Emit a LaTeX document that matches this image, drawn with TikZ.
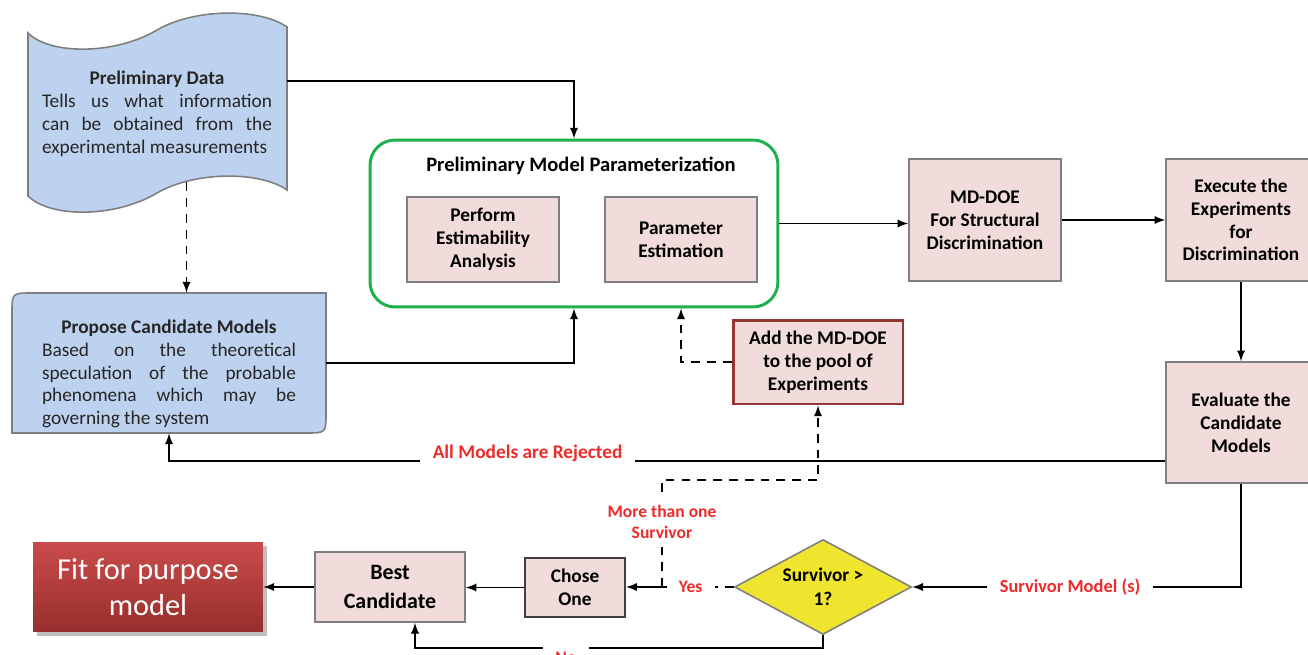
\documentclass[tikz,border=0pt]{standalone}
\usepackage{fontspec}
\setmainfont{Carlito}
\usetikzlibrary{arrows, shapes, positioning, shadows}

\definecolor{boxpink}{HTML}{F2DCDB}
\definecolor{boxblue}{HTML}{BDD2EE}
\definecolor{framegray}{HTML}{7F7F7F}
\definecolor{paramgreen}{HTML}{1FAF4E}
\definecolor{addred}{HTML}{953735}
\definecolor{labelred}{HTML}{EE2B2B}
\definecolor{decideyellow}{HTML}{EFE52F}
\definecolor{fittop}{HTML}{CB4B4B}
\definecolor{fitbottom}{HTML}{972E2D}
\definecolor{textgray}{HTML}{262626}

\begin{document}
\begin{tikzpicture}[x=0.02cm, y=-0.02cm,
		font=\fontsize{11}{13}\selectfont\bfseries,
		pinkbox/.style={draw=framegray, fill=boxpink, line width=0.9pt, align=center, inner sep=2pt},
		bluetext/.style={align=justify, font=\fontsize{11}{13}\selectfont, text=textgray},
		bluebody/.style={draw=framegray, fill=boxblue, line width=0.9pt},
		arr/.style={line width=1.1pt, -latex},
		dash line/.style={line width=1.1pt, dash pattern=on 5pt off 4pt},
		redlabel/.style={fill=white, text=labelred, font=\fontsize{10.5}{12.5}\selectfont\bfseries,
			align=center, inner xsep=7pt, inner ysep=5pt}]
			\useasboundingbox (0,0) rectangle (1308,655);
			\clip (0,0) rectangle (1308,655);

			\filldraw [bluebody] (28,33) .. controls (50,55) and (115,55) .. (157,30) .. controls (195,8) and (260,8) .. (287,27)
			-- (287,190) .. controls (260,171) and (195,171) .. (157,193) .. controls (115,218) and (50,218) .. (28,196) -- cycle;
			\node (data) at (157.5,106) [minimum width=5.18cm, minimum height=3.04cm] {};
			\node (datatext) at (157,114) [bluetext, text width=4.6cm]
			{\makebox[\linewidth]{\bfseries Preliminary Data}\par Tells us what information\linebreak
			can be obtained from the\linebreak experimental measurements};

			\filldraw [bluebody] (12,433) -- (12,313) .. controls (12,293) .. (32,293)
			-- (326,293) -- (326,413) .. controls (326,433) .. (306,433) -- cycle;
			\node (propose) at (169,363) [minimum width=6.28cm, minimum height=2.8cm] {};
			\node (proposetext) at (169,374) [bluetext, text width=5.08cm]
			{\makebox[\linewidth]{\bfseries Propose Candidate Models}\par Based on the theoretical\linebreak
			speculation of the probable\linebreak phenomena which may be\linebreak governing the system};

			\node (param) at (574,223.5) [draw=paramgreen, line width=1.7pt, rounded corners=0.5cm,
			minimum width=8.16cm, minimum height=3.34cm] {};
			\node (paramtitle) at (581,166) [font=\fontsize{11.7}{14}\selectfont\bfseries] {Preliminary Model Parameterization};
			\node (estim) at (483,239.5) [pinkbox, minimum width=3.04cm, minimum height=1.7cm] {Perform\\Estimability\\Analysis};
			\node (paramest) at (681,239.5) [pinkbox, minimum width=3.04cm, minimum height=1.7cm] {Parameter\\Estimation};

			\node (mddoe) at (985,220) [pinkbox, minimum width=3.04cm, minimum height=2.44cm] {MD-DOE\\For Structural\\Discrimination};
			\node (execute) at (1241,220) [pinkbox, minimum width=3.0cm, minimum height=2.44cm] {Execute the\\Experiments\\for\\Discrimination};
			\node (evaluate) at (1241,422.5) [pinkbox, minimum width=3.0cm, minimum height=2.42cm] {Evaluate the\\Candidate\\Models};
			\node (add) at (818,362) [pinkbox, draw=addred, line width=1.7pt, minimum width=3.4cm, minimum height=1.68cm] {Add the MD-DOE\\to the pool of\\Experiments};

			\node (decide) at (823,587) [diamond, aspect=1.8, draw=framegray, fill=decideyellow, line width=0.9pt, inner sep=0pt,
			minimum width=3.54cm, minimum height=1.9cm, align=center, font=\fontsize{11}{13.5}\selectfont\bfseries] {Survivor >\\1?};
			\node (chose) at (575,587.5) [pinkbox, draw=black!75, line width=1.3pt, minimum width=2cm, minimum height=1.18cm] {Chose\\One};
			\node (best) at (390,587) [pinkbox, minimum width=3cm, minimum height=1.4cm,
			font=\fontsize{12.5}{16}\selectfont\bfseries] {Best\\Candidate};
			\node (fit) at (148,587) [top color=fittop, bottom color=fitbottom, drop shadow, minimum width=4.6cm,
			minimum height=1.8cm, align=center, text=white, font=\fontsize{17.3}{20.5}\selectfont] {Fit for purpose\\model};

			\coordinate (yes) at (662,587);
			\coordinate (turn) at (662,480);

			\draw [arr] ([yshift=0.5cm]data.east) -| (param.north);
			\draw [arr] (propose.east) -| (param.south);
			\draw [dash line, arr] ([xshift=0.58cm]data.south) -- ([xshift=0.58cm]data.south |- propose.north);
			\draw [arr] (param.east) -- (param.east -| mddoe.west);
			\draw [arr] (mddoe.east) -- (mddoe.east -| execute.west);
			\draw [arr] (execute.south) -- (evaluate.north);
			\draw [arr] ([yshift=-0.77cm]evaluate.west) -| node[redlabel, pos=0.32, yshift=0.16cm,
			font=\fontsize{11}{13}\selectfont\bfseries] {All Models are Rejected} (propose.south);
			\draw [dash line, arr] (add.west) -| (paramest.south |- param.south);
			\draw [arr] (evaluate.south) |- node[redlabel, pos=0.76] {Survivor Model (s)} (decide.east);
			\draw [dash line] (decide.west) -- node[redlabel, pos=0.6, font=\fontsize{10}{12}\selectfont\bfseries] {Yes} (yes);
			\draw [arr] (yes) -- (yes -| chose.east);
			\draw [dash line, arr] (yes) -- node[redlabel, pos=0.61, font=\fontsize{10}{12}\selectfont\bfseries]
			{More than one\\Survivor} (turn) -| (add.south);
			\draw [arr] (chose.west) -- (chose.west -| best.east);
			\draw [arr] (best.west) -- (best.west -| fit.east);
			\draw [arr] (decide.south) -- ++(0,13) -| node[redlabel, pos=0.315, yshift=-0.2cm,
			font=\fontsize{10}{12}\selectfont\bfseries] {No} ([xshift=0.5cm]best.south);
		\end{tikzpicture}
\end{document}
